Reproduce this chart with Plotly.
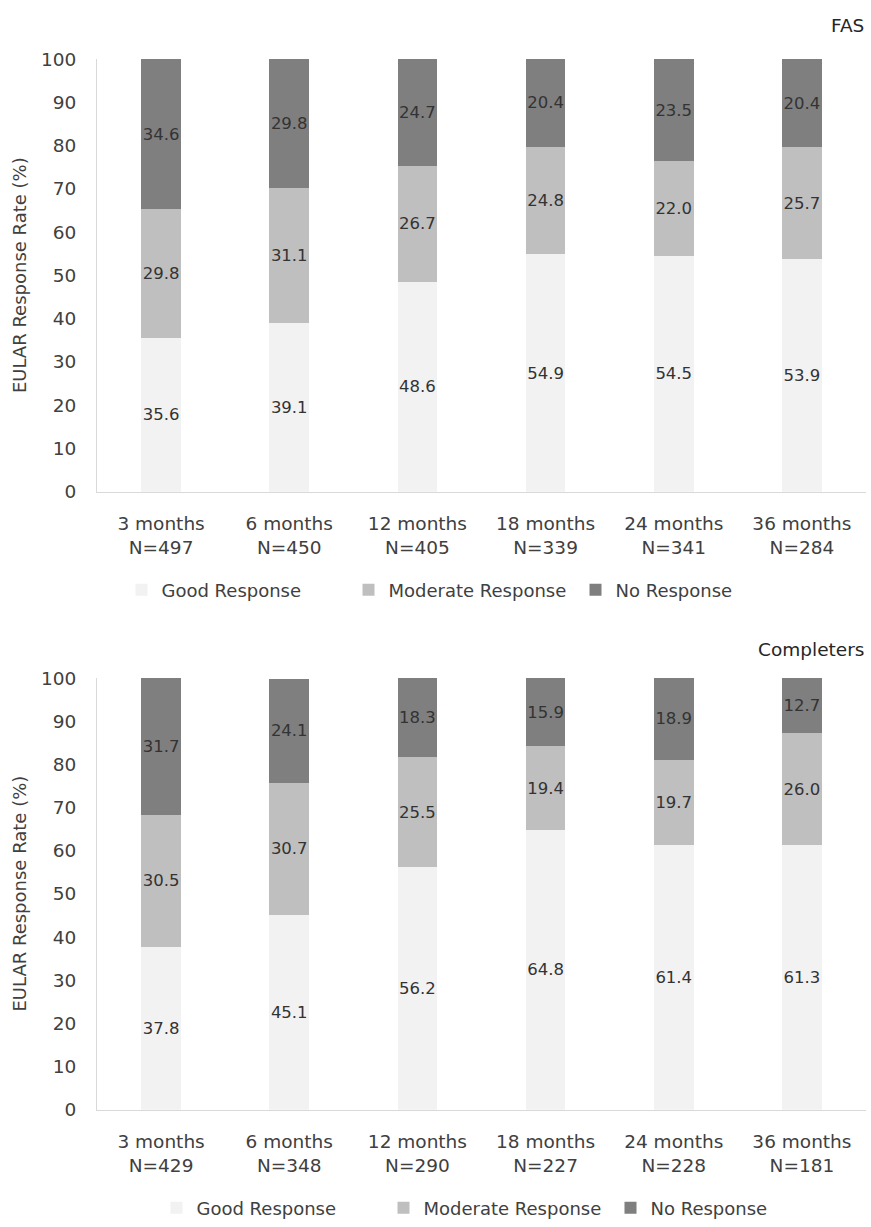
import plotly.graph_objects as go

periods = ["3 months", "6 months", "12 months", "18 months", "24 months", "36 months"]
n_fas = [497, 450, 405, 339, 341, 284]
n_comp = [429, 348, 290, 227, 228, 181]
series_names = ["Good Response", "Moderate Response", "No Response"]

fas_good = [35.6, 39.1, 48.6, 54.9, 54.5, 53.9]
fas_moderate = [29.8, 31.1, 26.7, 24.8, 22.0, 25.7]
fas_none = [34.6, 29.8, 24.7, 20.4, 23.5, 20.4]

comp_good = [37.8, 45.1, 56.2, 64.8, 61.4, 61.3]
comp_moderate = [30.5, 30.7, 25.5, 19.4, 19.7, 26.0]
comp_none = [31.7, 24.1, 18.3, 15.9, 18.9, 12.7]

colors = ["#f2f2f2", "#bfbfbf", "#7f7f7f"]
FONT = "DejaVu Sans"
TXT = "#404040"

fas_labels = [f"{p}<br>N={n}" for p, n in zip(periods, n_fas)]
comp_labels = [f"{p}<br>N={n}" for p, n in zip(periods, n_comp)]

fig = go.Figure()

def add_bars(xlabels, values_list, xaxis, yaxis, legend):
    for name, vals, col in zip(series_names, values_list, colors):
        fig.add_trace(go.Bar(
            x=xlabels, y=vals, name=name, marker_color=col,
            marker_line_width=0,
            text=[f"{v:.1f}" for v in vals], textposition="inside",
            insidetextanchor="middle", textangle=0, constraintext="none",
            textfont=dict(family=FONT, size=16.5, color="#333333"),
            xaxis=xaxis, yaxis=yaxis, legend=legend,
            width=0.31, cliponaxis=False,
        ))

add_bars(fas_labels, [fas_good, fas_moderate, fas_none], "x", "y", "legend")
add_bars(comp_labels, [comp_good, comp_moderate, comp_none], "x2", "y2", "legend2")

W, H = 871, 1227
xdom = [97 / W, 866 / W]
top_dom = [1 - 495 / H, 1 - 59 / H]
bot_dom = [1 - 1117 / H, 1 - 682 / H]

axis_font = dict(family=FONT, size=18.5, color=TXT)
xcommon = dict(showline=True, linecolor="#d9d9d9", linewidth=1, ticks="",
               tickfont=axis_font, showgrid=False, automargin=False, domain=xdom,
               ticklabelstandoff=15)
ycommon = dict(range=[0, 100.15], tickvals=list(range(0, 101, 10)), showline=True,
               linecolor="#d9d9d9", linewidth=1,
               ticks="", tickfont=axis_font, showgrid=False, zeroline=False, automargin=False,
               ticklabelstandoff=16,
               title=dict(text="EULAR Response Rate (%)", font=dict(family=FONT, size=18, color=TXT), standoff=9))

legend_common = dict(orientation="h", xanchor="center", yanchor="middle",
                     font=dict(family=FONT, size=18, color=TXT), traceorder="normal",
                     entrywidthmode="pixels", entrywidth=182)

fig.update_layout(
    width=W, height=H,
    margin=dict(l=0, r=0, t=0, b=0),
    paper_bgcolor="white", plot_bgcolor="white",
    barmode="stack",
    uniformtext=dict(mode="show", minsize=16.5),
    xaxis=dict(**xcommon, anchor="y"),
    yaxis=dict(**ycommon, domain=top_dom, anchor="x"),
    xaxis2=dict(**xcommon, anchor="y2"),
    yaxis2=dict(**ycommon, domain=bot_dom, anchor="x2"),
    legend=dict(**legend_common, x=462 / W, y=1 - 594 / H),
    legend2=dict(**legend_common, x=497 / W, y=1 - 1216 / H),
    annotations=[
        dict(text="FAS", x=866 / W, y=1 - 26 / H, xref="paper", yref="paper",
             xanchor="right", yanchor="middle", showarrow=False,
             font=dict(family=FONT, size=18.5, color="#262626")),
        dict(text="Completers", x=866 / W, y=1 - 654 / H, xref="paper", yref="paper",
             xanchor="right", yanchor="middle", showarrow=False,
             font=dict(family=FONT, size=18.5, color="#262626")),
    ],
)

fig.write_html("out.html", config={"displayModeBar": False},
               post_script="document.body.style.margin='0';document.body.style.overflow='hidden';")
